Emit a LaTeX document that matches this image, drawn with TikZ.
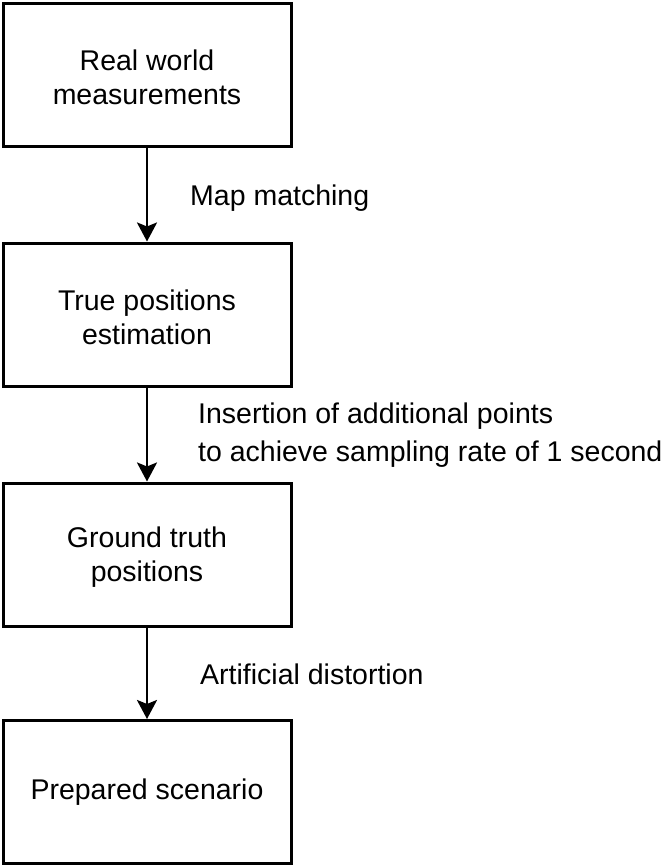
\documentclass[tikz,border=0pt]{standalone}
\usepackage{fontspec}
\setmainfont{Liberation Sans}
\usetikzlibrary{arrows.meta}
\begin{document}
\begin{tikzpicture}[x=1pt,y=-1pt,
  stepbox/.style={draw=black, line width=3pt, minimum width=288pt, minimum height=143pt, inner sep=0pt},
  boxtext/.style={align=center, inner sep=0pt, font=\fontsize{28.5}{34}\selectfont},
  flow/.style={line width=2.8pt, -{Stealth[length=19pt,width=20pt,inset=4pt]}},
  lbl/.style={anchor=west, align=left, inner sep=0pt, font=\fontsize{28.5}{38.5}\selectfont}]
\useasboundingbox (0,0) rectangle (671,865);
\node[stepbox] (a) at (147,74.5) {};
\node[stepbox] (b) at (147,314.5) {};
\node[stepbox] (c) at (147,554.5) {};
\node[stepbox] (d) at (147,792) {};
\node[boxtext] (ta) at ([yshift=-3pt]a.center) {Real world\\measurements};
\node[boxtext] (tb) at ([yshift=-3pt]b.center) {True positions\\estimation};
\node[boxtext] (tc) at ([yshift=-3pt]c.center) {Ground truth\\positions};
\node[boxtext] (td) at (d.center) {Prepared scenario};
\draw[flow] (a) -- (b);
\draw[flow] (b) -- (c);
\draw[flow] (c) -- (d);
\node[lbl] (la) at (190,198) {Map matching};
\node[lbl] (lb) at (198,435) {Insertion of additional points\\to achieve sampling rate of 1 second};
\node[lbl] (lc) at (200,674) {Artificial distortion};
\end{tikzpicture}
\end{document}
